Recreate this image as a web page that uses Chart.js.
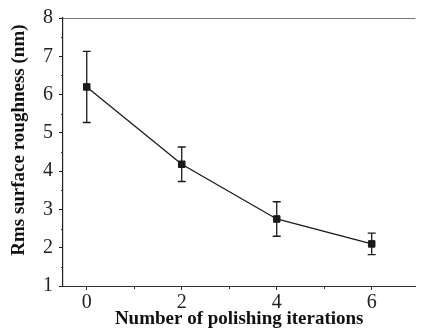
<!DOCTYPE html>
<html>
<head>
<meta charset="utf-8">
<script src="https://cdn.jsdelivr.net/npm/chart.js@4/dist/chart.umd.min.js"></script>
<style>
  html, body { margin: 0; padding: 0; background: #fff; overflow: hidden; }
  #wrap { width: 421px; height: 330px; position: relative; }
</style>
</head>
<body>
<div id="wrap"><canvas id="chart"></canvas></div>
<script>
// data
const iterations = [0, 2, 4, 6]
const rms = [6.2, 4.18, 2.75, 2.1]
const rmsErr = [0.93, 0.45, 0.45, 0.28]
const xTicks = [0, 2, 4, 6]
const yTicks = [1, 2, 3, 4, 5, 6, 7, 8]

const ink = "#1a1a1a"
const serif = "'Liberation Serif', 'Times New Roman', serif"

// error bars + minor ticks + top frame line
const extras = {
  id: "extras",
  beforeDatasetsDraw(chart) {
    const { ctx, scales: { x, y } } = chart
    ctx.save()
    ctx.strokeStyle = ink
    ctx.lineWidth = 1.3
    iterations.forEach((it, i) => {
      const px = x.getPixelForValue(it)
      const top = y.getPixelForValue(rms[i] + rmsErr[i])
      const bot = y.getPixelForValue(rms[i] - rmsErr[i])
      ctx.beginPath()
      ctx.moveTo(px, top)
      ctx.lineTo(px, bot)
      ctx.moveTo(px - 4, top)
      ctx.lineTo(px + 4, top)
      ctx.moveTo(px - 4, bot)
      ctx.lineTo(px + 4, bot)
      ctx.stroke()
    })
    ctx.restore()
  },
  afterDraw(chart) {
    const { ctx, chartArea, scales: { x, y } } = chart
    ctx.save()
    ctx.strokeStyle = "#333"
    ctx.lineWidth = 1
    // minor y ticks at half units
    for (let v = 1.5; v < 8; v += 1) {
      const py = Math.round(y.getPixelForValue(v)) + 0.5
      ctx.beginPath()
      ctx.moveTo(chartArea.left - 2, py)
      ctx.lineTo(chartArea.left, py)
      ctx.stroke()
    }
    // minor x ticks at odd values
    for (let v = 1; v <= 5; v += 2) {
      const px = Math.round(x.getPixelForValue(v)) + 0.5
      ctx.beginPath()
      ctx.moveTo(px, chartArea.bottom)
      ctx.lineTo(px, chartArea.bottom + 3)
      ctx.stroke()
    }
    // top frame line
    ctx.strokeStyle = "#777"
    ctx.beginPath()
    ctx.moveTo(chartArea.left, chartArea.top + 0.5)
    ctx.lineTo(chartArea.right, chartArea.top + 0.5)
    ctx.stroke()
    ctx.restore()
  },
}

new Chart(document.getElementById("chart"), {
  type: "line",
  data: {
    datasets: [
      {
        data: iterations.map((it, i) => ({ x: it, y: rms[i] })),
        borderColor: ink,
        borderWidth: 1.3,
        backgroundColor: ink,
        pointStyle: "rect",
        pointRadius: 4.6,
        pointBorderWidth: 1,
        pointBorderColor: ink,
        pointBackgroundColor: ink,
        tension: 0,
      },
    ],
  },
  options: {
    responsive: true,
    maintainAspectRatio: false,
    animation: false,
    events: [],
    layout: { padding: { top: 16, right: 0, left: 0, bottom: 0 } },
    plugins: { legend: { display: false }, tooltip: { enabled: false } },
    scales: {
      x: {
        type: "linear",
        min: -0.5,
        max: 6.92,
        afterBuildTicks: (s) => { s.ticks = xTicks.map((v) => ({ value: v })) },
        afterFit: (s) => { s.height = 44 },
        grid: { display: true, drawOnChartArea: false, drawTicks: true, tickLength: 4, color: "#333" },
        border: { display: true, color: "#333", width: 1 },
        ticks: { color: "#222", padding: 1, font: { family: serif, size: 20 } },
        title: {
          display: true,
          text: "Number of polishing iterations",
          color: "#111",
          padding: { top: 0, bottom: 0 },
          font: { family: serif, size: 19, weight: "bold" },
        },
      },
      y: {
        type: "linear",
        min: 1,
        max: 8,
        afterBuildTicks: (s) => { s.ticks = yTicks.map((v) => ({ value: v })) },
        afterFit: (s) => { s.width = 63 },
        grid: { display: true, drawOnChartArea: false, drawTicks: true, tickLength: 4, color: "#222" },
        border: { display: true, color: "#222", width: 1.2 },
        ticks: { color: "#222", padding: 6, font: { family: serif, size: 20 } },
        title: {
          display: true,
          // leading spaces nudge the rotated title up, as in the original
          text: "     Rms surface roughness (nm)",
          color: "#111",
          padding: { top: 8, bottom: 0 },
          font: { family: serif, size: 19, weight: "bold" },
        },
      },
    },
  },
  plugins: [extras],
})
</script>
</body>
</html>
